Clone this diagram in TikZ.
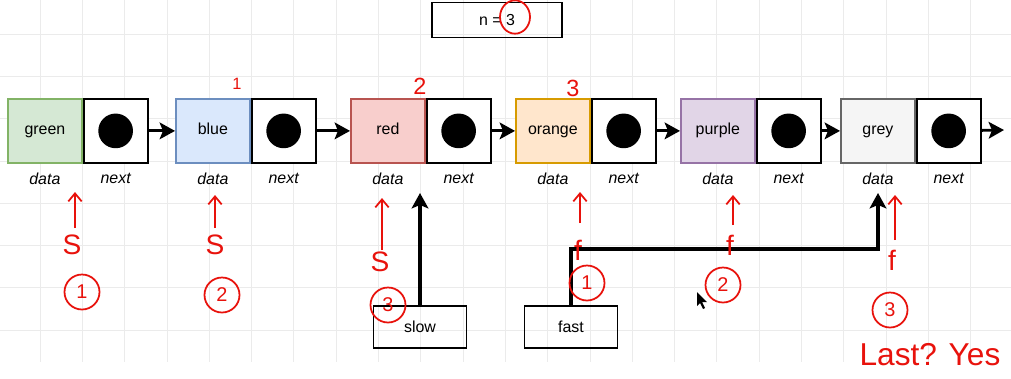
\documentclass[tikz,border=0pt]{standalone}
\usepackage{fontspec}
\setmainfont{Liberation Sans}
\usetikzlibrary{positioning,arrows.meta}

\definecolor{grfill}{HTML}{D5E8D4}\definecolor{grline}{HTML}{82B366}
\definecolor{blfill}{HTML}{DAE8FC}\definecolor{blline}{HTML}{6C8EBF}
\definecolor{rdfill}{HTML}{F8CECC}\definecolor{rdline}{HTML}{B85450}
\definecolor{orfill}{HTML}{FFE6CC}\definecolor{orline}{HTML}{D79B00}
\definecolor{pufill}{HTML}{E1D5E7}\definecolor{puline}{HTML}{9673A6}
\definecolor{gyfill}{HTML}{F5F5F5}\definecolor{gyline}{HTML}{666666}
\definecolor{gridc}{HTML}{EBEBEB}
\definecolor{pen}{HTML}{E8120C}

\begin{document}
\begin{tikzpicture}[x=0.03cm, y=-0.03cm,
    cell/.style={draw, line width=1.5pt, minimum height=1.92cm, inner sep=0pt,
                 text height=1.6ex, text depth=0.4ex, font=\fontsize{13.6}{16}\selectfont},
    datacell/.style={cell, minimum width=2.22cm},
    nextcell/.style={cell, minimum width=1.92cm, fill=white},
    tag/.style={font=\fontsize{13.6}{16}\selectfont\itshape},
    link/.style={-{Stealth[length=0.46cm, width=0.5cm, inset=0.1cm]}, line width=2.4pt},
    box/.style={draw, line width=1.5pt, inner sep=0pt, font=\fontsize{13.6}{16}\selectfont},
    scrib/.style={text=pen, font=\fontsize{20}{22}\selectfont},
    scribline/.style={draw=pen, line width=1.5pt},
    scribarrow/.style={scribline, -{Straight Barb[length=0.24cm, width=0.4cm]}},
    ring/.style={circle, scribline, minimum size=1.05cm, inner sep=0pt, text=pen,
                 font=\fontsize{17}{19}\selectfont}]
    \useasboundingbox (0,0) rectangle (1011,378);
    % background grid
    \foreach \gx in {0,...,23}
        \draw[gridc, line width=0.6pt] (40+42.3*\gx,0) -- (40+42.3*\gx,362);
    \foreach \gy in {0,...,7}
        \draw[gridc, line width=0.6pt] (0,34+42.3*\gy) -- (1011,34+42.3*\gy);

    % list nodes
    \foreach \name/\x/\fillc/\linec in {green/7/grfill/grline, blue/175/blfill/blline,
            red/350/rdfill/rdline, orange/515/orfill/orline,
            purple/680/pufill/puline, grey/840/gyfill/gyline} {
        \node[datacell, fill=\fillc, draw=\linec, anchor=north west] (\name) at (\x,98) {\name};
        \node[nextcell, right=0pt of \name] (nx\name) {};
        \fill (nx\name.center) circle (0.52cm);
        \node[tag] (lb\name) at ([yshift=-0.45cm]\name.south) {data};
        \node[tag] (lbnx\name) at ([yshift=-0.45cm]nx\name.south) {next};
    }
    \foreach \a/\b in {green/blue, blue/red, red/orange, orange/purple, purple/grey}
        \draw[link] (nx\a) -- (\b);
    \coordinate (tail) at (1004,130);
    \draw[link] (nxgrey) -- (tail);

    % counter and pointers
    \node[box, minimum width=3.9cm, minimum height=1.05cm] (count) at (497,20) {n = 3};
    \node[box, minimum width=2.79cm, minimum height=1.26cm] (slow) at (420,327) {slow};
    \node[box, minimum width=2.79cm, minimum height=1.26cm] (fast) at (571,327) {fast};
    \coordinate (slowtip) at (420,193);
    \coordinate (bend) at (571,249);
    \coordinate (fasttip) at (878,193);
    \draw[link, line width=2.8pt] (slow) -- (slowtip);
    \draw[link, line width=2.8pt] (fast) -- (bend) -| (fasttip);

    % pen notes
    \draw[scribline] (515,17) ellipse (0.45cm and 0.5cm);
    \node[scrib, font=\fontsize{14}{16}\selectfont] (one) at (237,84) {1};
    \node[scrib] (two) at (420,86) {2};
    \node[scrib] (three) at (573,88) {3};
    \foreach \i/\x/\base/\tip/\lx/\ly/\letter/\cx/\cy/\num in {
            1/75/228/192/72/245/S/82/292/1, 2/215/228/195/215/245/S/222/295/2,
            3/382/250/198/380/262/S/388/305/3, 4/580/223/192/578/250/f/587/283/1,
            5/733/225/195/730/245/f/723/285/2, 6/895/240/195/892/260/f/890/310/3} {
        \coordinate (foot\i) at (\x,\base);
        \coordinate (head\i) at (\x,\tip);
        \draw[scribarrow] (foot\i) -- (head\i);
        \node[scrib, font=\fontsize{24}{26}\selectfont] (mark\i) at (\lx,\ly) {\letter};
        \node[ring] (step\i) at (\cx,\cy) {\num};
    }
    \node[scrib, font=\fontsize{27}{29}\selectfont] (last) at (930,355) {Last? Yes};

    % mouse cursor
    \fill (697,292) -- (697,306) -- (700,303) -- (703,309) -- (705,308) -- (702,302) -- (707,302) -- cycle;
\end{tikzpicture}
\end{document}
